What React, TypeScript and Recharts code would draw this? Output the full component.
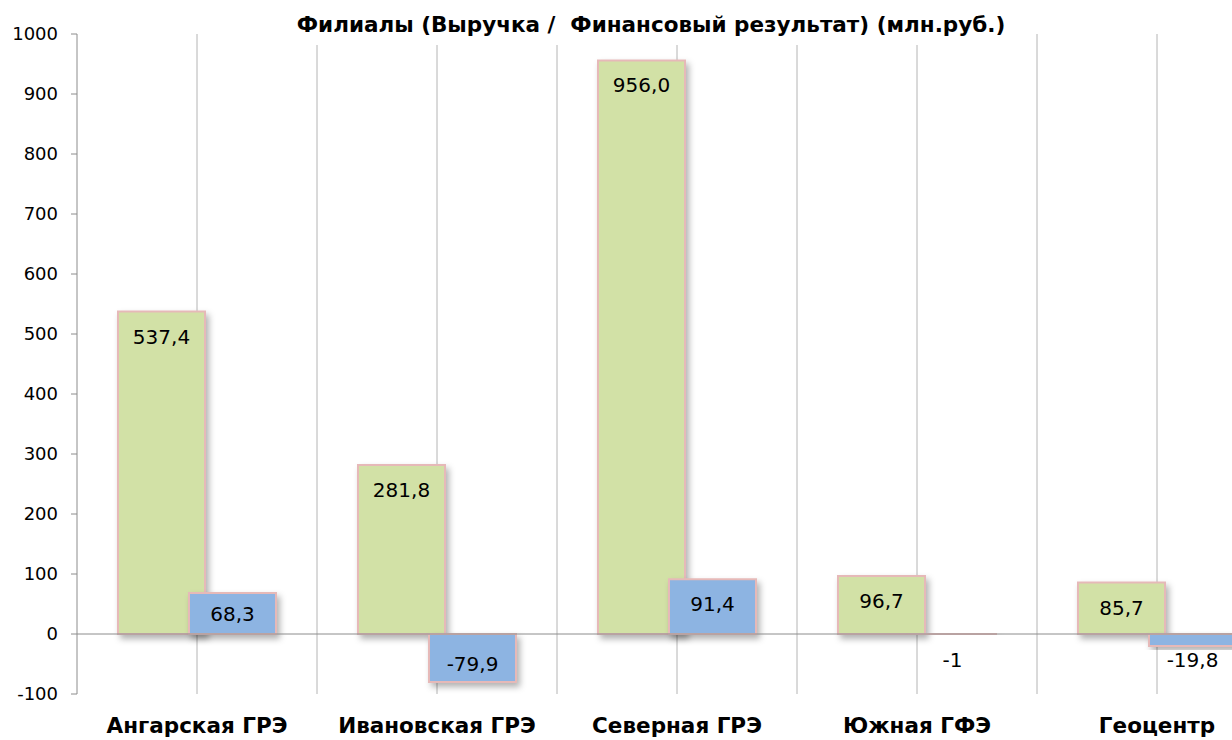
import React from 'react';
import { BarChart, Bar, XAxis, YAxis, CartesianGrid, ReferenceLine, LabelList } from 'recharts';

const branches = ['Ангарская ГРЭ', 'Ивановская ГРЭ', 'Северная ГРЭ', 'Южная ГФЭ', 'Геоцентр'];
const revenue = [537.4, 281.8, 956.0, 96.7, 85.7];
const finResult = [68.3, -79.9, 91.4, -1, -19.8];
const yTicks = [-100, 0, 100, 200, 300, 400, 500, 600, 700, 800, 900, 1000];
const chartTitle = 'Филиалы (Выручка /  Финансовый результат) (млн.руб.)';

const data = branches.map((name, i) => ({
  name,
  revenue: revenue[i],
  result: finResult[i],
}));

const fmtOneDecimal = (v: number) => v.toFixed(1).replace('.', ',');
const fmtGeneral = (v: number) => (Number.isInteger(v) ? String(v) : fmtOneDecimal(v));

const makeLabel = (fmt: (v: number) => string) => (props: any) => {
  const { x, y, width, height, value } = props;
  const top = Math.min(y, y + height);
  const bottom = Math.max(y, y + height);
  const h = bottom - top;
  let cy: number;
  if (value >= 0) {
    cy = top + Math.min(25, h / 2);
  } else if (h > 30) {
    cy = bottom - 18;
  } else {
    cy = top + 26;
  }
  return (
    <text
      x={x + width / 2}
      y={cy}
      textAnchor="middle"
      dominantBaseline="central"
      fontFamily="DejaVu Sans"
      fontSize={20}
      fill="#000"
    >
      {fmt(value)}
    </text>
  );
};

const CategoryTick = (props: any) => {
  const { x, y, payload } = props;
  return (
    <text
      x={x}
      y={y}
      dy={31}
      textAnchor="middle"
      fontFamily="DejaVu Sans"
      fontWeight="bold"
      fontSize={21.5}
      fill="#000"
    >
      {payload.value}
    </text>
  );
};

export default function App() {
  return (
    <div
      style={{
        position: 'absolute',
        left: 0,
        top: 0,
        width: 1232,
        height: 740,
        overflow: 'hidden',
        background: '#fff',
      }}
    >
      <svg width={0} height={0} style={{ position: 'absolute' }}>
        <defs>
          <filter id="barShadow" x="-20%" y="-20%" width="150%" height="150%">
            <feDropShadow dx={3} dy={4} stdDeviation={3} floodColor="#000" floodOpacity={0.3} />
          </filter>
        </defs>
      </svg>
      <BarChart
        width={1290}
        height={740}
        data={data}
        margin={{ top: 34, right: 13, left: 0, bottom: 0 }}
        barSize={87}
        barGap={-16}
      >
        <CartesianGrid
          horizontal={false}
          stroke="#b4b4b4"
          verticalCoordinatesGenerator={({ offset }: any) =>
            Array.from({ length: 10 }, (_, k) => offset.left + ((k + 1) * offset.width) / 10)
          }
        />
        <XAxis
          dataKey="name"
          height={46}
          axisLine={false}
          tickLine={false}
          tick={<CategoryTick />}
          interval={0}
        />
        <YAxis
          width={77}
          domain={[-100, 1000]}
          ticks={yTicks}
          interval={0}
          stroke="#8c8c8c"
          tickSize={6}
          tickMargin={13}
          tick={{ fontFamily: 'DejaVu Sans', fontSize: 18, fill: '#000' }}
        />
        <ReferenceLine y={0} stroke="#8c8c8c" />
        <Bar
          dataKey="revenue"
          fill="#d2e1a6"
          stroke="#e6b9b8"
          strokeWidth={2}
          filter="url(#barShadow)"
          isAnimationActive={false}
        >
          <LabelList dataKey="revenue" content={makeLabel(fmtOneDecimal)} />
        </Bar>
        <Bar
          dataKey="result"
          fill="#8db4e2"
          stroke="#e6b9b8"
          strokeWidth={2}
          filter="url(#barShadow)"
          isAnimationActive={false}
        >
          <LabelList dataKey="result" content={makeLabel(fmtGeneral)} />
        </Bar>
      </BarChart>
      <div
        style={{
          position: 'absolute',
          left: 266,
          top: 0,
          width: 770,
          height: 45,
          background: '#fff',
          textAlign: 'center',
          fontFamily: 'DejaVu Sans',
          fontWeight: 'bold',
          fontSize: 21.5,
          lineHeight: '22px',
          paddingTop: 14,
          boxSizing: 'border-box',
          whiteSpace: 'pre',
          color: '#000',
        }}
      >
        {chartTitle}
      </div>
    </div>
  );
}
